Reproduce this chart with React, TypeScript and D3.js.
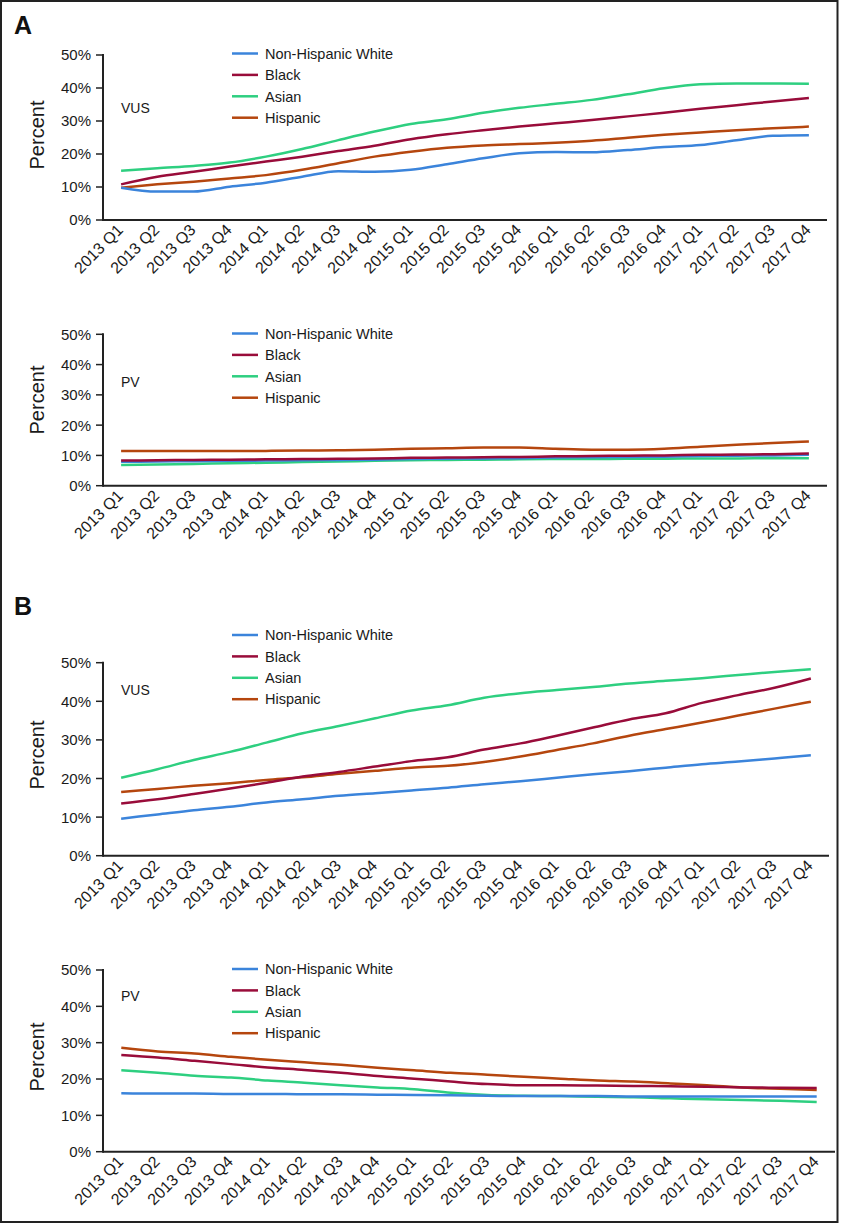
import React from "react";
import * as d3 from "d3";

const quarters = [
  "2013 Q1", "2013 Q2", "2013 Q3", "2013 Q4",
  "2014 Q1", "2014 Q2", "2014 Q3", "2014 Q4",
  "2015 Q1", "2015 Q2", "2015 Q3", "2015 Q4",
  "2016 Q1", "2016 Q2", "2016 Q3", "2016 Q4",
  "2017 Q1", "2017 Q2", "2017 Q3", "2017 Q4",
];

const seriesNames = ["Non-Hispanic White", "Black", "Asian", "Hispanic"];
const seriesColors = ["#3b84db", "#990c3a", "#2ecf80", "#b5460e"];
const yTicks = [0, 10, 20, 30, 40, 50];

// Panel A – VUS
const aVusWhite = [9.8, 8.6, 8.6, 10.1, 11.3, 13.1, 14.8, 14.6, 15.2, 16.9, 18.7, 20.2, 20.6, 20.5, 21.2, 22.1, 22.7, 24.2, 25.5, 25.7];
const aVusBlack = [10.8, 13.1, 14.6, 16.2, 17.7, 19.2, 20.9, 22.5, 24.5, 26.0, 27.2, 28.3, 29.3, 30.3, 31.4, 32.5, 33.7, 34.8, 35.9, 37.0];
const aVusAsian = [14.9, 15.7, 16.4, 17.4, 19.2, 21.5, 24.2, 26.8, 29.1, 30.5, 32.5, 34.0, 35.2, 36.4, 38.1, 39.9, 41.1, 41.4, 41.4, 41.3];
const aVusHispanic = [9.8, 10.8, 11.6, 12.6, 13.6, 15.2, 17.2, 19.2, 20.7, 21.9, 22.6, 23.0, 23.4, 24.0, 24.9, 25.8, 26.5, 27.2, 27.8, 28.3];

// Panel A – PV
const aPvWhite = [7.9, 8.0, 8.1, 8.2, 8.3, 8.4, 8.5, 8.6, 8.8, 8.9, 9.0, 9.1, 9.3, 9.4, 9.5, 9.6, 9.8, 9.9, 10.0, 10.2];
const aPvBlack = [8.3, 8.4, 8.5, 8.6, 8.7, 8.8, 8.9, 9.0, 9.2, 9.3, 9.4, 9.5, 9.7, 9.8, 9.9, 10.0, 10.2, 10.3, 10.4, 10.6];
const aPvAsian = [6.8, 7.0, 7.2, 7.4, 7.6, 7.8, 8.0, 8.2, 8.4, 8.5, 8.6, 8.7, 8.8, 8.8, 8.9, 8.9, 9.0, 9.0, 9.1, 9.1];
const aPvHispanic = [11.5, 11.5, 11.5, 11.5, 11.5, 11.6, 11.7, 11.9, 12.2, 12.4, 12.6, 12.6, 12.2, 11.9, 11.9, 12.2, 12.9, 13.5, 14.1, 14.6];

// Panel B – VUS
const bVusWhite = [9.6, 10.7, 11.8, 12.7, 13.8, 14.6, 15.5, 16.2, 16.9, 17.6, 18.5, 19.3, 20.2, 21.1, 21.9, 22.8, 23.7, 24.4, 25.2, 26.0];
const bVusBlack = [13.5, 14.6, 16.0, 17.4, 18.9, 20.5, 21.7, 23.1, 24.5, 25.5, 27.5, 29.1, 31.1, 33.2, 35.3, 36.9, 39.6, 41.6, 43.5, 45.9];
const bVusAsian = [20.2, 22.4, 24.8, 26.9, 29.3, 31.7, 33.6, 35.6, 37.6, 39.0, 40.9, 42.1, 42.9, 43.7, 44.6, 45.3, 46.0, 46.8, 47.6, 48.3];
const bVusHispanic = [16.5, 17.3, 18.1, 18.8, 19.6, 20.3, 21.2, 22.0, 22.8, 23.3, 24.3, 25.7, 27.4, 29.1, 31.1, 32.8, 34.5, 36.3, 38.1, 39.9];

// Panel B – PV
const bPvWhite = [16.1, 16.0, 16.0, 15.9, 15.9, 15.8, 15.8, 15.7, 15.6, 15.5, 15.4, 15.3, 15.3, 15.3, 15.2, 15.2, 15.2, 15.2, 15.2, 15.2];
const bPvBlack = [26.6, 25.9, 25.0, 24.1, 23.2, 22.5, 21.7, 20.8, 20.1, 19.3, 18.6, 18.3, 18.3, 18.2, 18.1, 18.0, 17.9, 17.7, 17.6, 17.5];
const bPvAsian = [22.4, 21.7, 20.9, 20.4, 19.6, 19.0, 18.3, 17.7, 17.2, 16.2, 15.6, 15.4, 15.3, 15.1, 15.0, 14.7, 14.4, 14.2, 14.0, 13.7];
const bPvHispanic = [28.6, 27.6, 27.0, 26.1, 25.3, 24.6, 23.9, 23.1, 22.4, 21.7, 21.2, 20.6, 20.1, 19.6, 19.3, 18.8, 18.3, 17.7, 17.3, 17.0];

const FONT = "Arial, 'Liberation Sans', Helvetica, sans-serif";

type PanelProps = {
  series: number[][];
  tag: string;
  top: number;
  bottom: number;
  right: number;
  legendY: number;
  tagY: number;
  titleY: number;
};

const LEFT = 103;

function Panel({ series, tag, top, bottom, right, legendY, tagY, titleY }: PanelProps) {
  const x = d3.scaleBand<string>().domain(quarters).range([LEFT, right]);
  const y = d3.scaleLinear().domain([0, 50]).range([bottom, top]);
  const cx = (q: string) => (x(q) as number) + x.bandwidth() / 2;
  const line = d3
    .line<number>()
    .x((_, i) => cx(quarters[i]))
    .y((v) => y(v))
    .curve(d3.curveMonotoneX);
  const order = [3, 2, 0, 1];
  return (
    <g fontFamily={FONT} fill="#1a1a1a">
      <line x1={LEFT} x2={LEFT} y1={top - 1} y2={bottom + 1} stroke="#222" strokeWidth={2} />
      {yTicks.map((t) => (
        <g key={t}>
          <line x1={LEFT - 7} x2={LEFT} y1={y(t)} y2={y(t)} stroke="#222" strokeWidth={1.5} />
          <text x={LEFT - 12} y={y(t)} dy="0.36em" textAnchor="end" fontSize={15}>
            {t}%
          </text>
        </g>
      ))}
      <line x1={LEFT} x2={right} y1={bottom} y2={bottom} stroke="#222" strokeWidth={2} />
      {quarters.map((q) => (
        <text
          key={q}
          transform={`translate(${cx(q) + 3},${bottom + 11}) rotate(-45)`}
          textAnchor="end"
          fontSize={16}
        >
          {q}
        </text>
      ))}
      <text
        transform={`translate(44,${titleY}) rotate(-90)`}
        textAnchor="middle"
        fontSize={20}
      >
        Percent
      </text>
      <text x={121} y={tagY} fontSize={14}>
        {tag}
      </text>
      {seriesNames.map((n, i) => (
        <g key={n}>
          <line
            x1={232}
            x2={258}
            y1={legendY + i * 21.4}
            y2={legendY + i * 21.4}
            stroke={seriesColors[i]}
            strokeWidth={2.5}
          />
          <text x={265} y={legendY + i * 21.4} dy="0.36em" fontSize={14.5}>
            {n}
          </text>
        </g>
      ))}
      {order.map((i) => (
        <path
          key={i}
          d={line(series[i]) as string}
          fill="none"
          stroke={seriesColors[i]}
          strokeWidth={2.5}
        />
      ))}
    </g>
  );
}

export default function App() {
  return (
    <svg
      width={841}
      height={1224}
      style={{ position: "absolute", left: 0, top: 0, background: "#fff" }}
    >
      <rect x={0} y={0} width={841} height={1224} fill="#fff" />
      <rect x={1} y={1} width={836.5} height={1221} fill="none" stroke="#222" strokeWidth={2} />
      <text x={14} y={34} fontFamily={FONT} fontWeight="bold" fontSize={25} fill="#111">
        A
      </text>
      <text x={14} y={615} fontFamily={FONT} fontWeight="bold" fontSize={25} fill="#111">
        B
      </text>
      <Panel
        series={[aVusWhite, aVusBlack, aVusAsian, aVusHispanic]}
        tag="VUS"
        top={55}
        bottom={220}
        right={827}
        legendY={53.5}
        tagY={113}
        titleY={135}
      />
      <Panel
        series={[aPvWhite, aPvBlack, aPvAsian, aPvHispanic]}
        tag="PV"
        top={334.3}
        bottom={485.7}
        right={827}
        legendY={333.5}
        tagY={387}
        titleY={400}
      />
      <Panel
        series={[bVusWhite, bVusBlack, bVusAsian, bVusHispanic]}
        tag="VUS"
        top={662.7}
        bottom={855.7}
        right={829}
        legendY={635}
        tagY={695}
        titleY={755}
      />
      <Panel
        series={[bPvWhite, bPvBlack, bPvAsian, bPvHispanic]}
        tag="PV"
        top={970}
        bottom={1151.7}
        right={835}
        legendY={969}
        tagY={1000.7}
        titleY={1057}
      />
    </svg>
  );
}
